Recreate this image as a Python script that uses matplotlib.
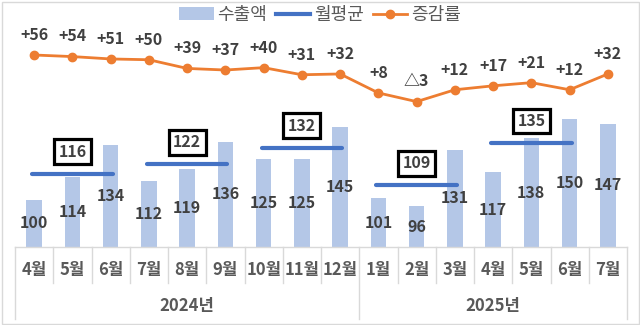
import matplotlib
matplotlib.use("Agg")
import matplotlib.pyplot as plt
from matplotlib.patches import Rectangle
from matplotlib.lines import Line2D
from matplotlib.patches import Patch
import matplotlib.transforms as mtransforms

plt.rcParams['font.family'] = ['Noto Sans CJK KR', 'DejaVu Sans']

# Data
months = ["4월", "5월", "6월", "7월", "8월", "9월", "10월", "11월", "12월",
          "1월", "2월", "3월", "4월", "5월", "6월", "7월"]
years = ["2024년", "2025년"]
year_spans = [(0, 8), (9, 15)]
exports = [100, 114, 134, 112, 119, 136, 125, 125, 145,
           101, 96, 131, 117, 138, 150, 147]
growth = [56, 54, 51, 50, 39, 37, 40, 31, 32, 8, -3, 12, 17, 21, 12, 32]
quarter_avg = [116, 122, 132, 109, 135]
quarter_start = [0, 3, 6, 9, 12]

BAR = "#B4C7E7"
AVG = "#4472C4"
ORANGE = "#ED7D31"
TXT = "#404040"
AXTXT = "#595959"
GRID = "#D9D9D9"

fig = plt.figure(figsize=(6.4, 3.25), dpi=100)
W, H = 640, 325
y_bot_px, y_top_px = 247, 20
ax = fig.add_axes([15 / W, (H - y_bot_px) / H, 612 / W, (y_bot_px - y_top_px) / H])
ax2 = ax.twinx()

x = list(range(len(months)))
ylo, yhi = 71, 211
ax.set_ylim(ylo, yhi)
ax.set_xlim(-0.5, len(months) - 0.5)
ax2.set_ylim(-187, 100.3)

LBL = 11.5

# Export bars with centered value labels
ax.bar(x, [v - ylo for v in exports], bottom=ylo, width=0.4, color=BAR, zorder=1)
for xi, v in zip(x, exports):
    ax.text(xi, (ylo + v) / 2, f"{v}", ha="center", va="center",
            fontsize=LBL, fontweight="bold", color=TXT, zorder=3)

# Quarterly average lines with boxed labels
for s, a in zip(quarter_start, quarter_avg):
    ax.plot([s - 0.05, s + 2.05], [a, a], color=AVG, lw=3,
            solid_capstyle="round", zorder=2)
    ax.annotate(f"{a}", xy=(s + 1, a), xytext=(0, 16), textcoords="offset points",
                ha="center", va="center", fontsize=LBL, fontweight="bold",
                color=TXT, zorder=5,
                bbox=dict(boxstyle="square,pad=0.28", fc="white", ec="black", lw=2.3))

# Growth rate line
ax2.plot(x, growth, color=ORANGE, lw=2, marker="o", markersize=6, zorder=4)
for xi, g in zip(x, growth):
    lab = f"+{g}" if g >= 0 else f"△{-g}"
    ax2.annotate(lab, xy=(xi, g), xytext=(0, 14.5), textcoords="offset points",
                 ha="center", va="center", fontsize=LBL, fontweight="bold",
                 color=TXT)

for a in (ax, ax2):
    a.set_yticks([])
    a.set_xticks([])
    for sp in a.spines.values():
        sp.set_visible(False)
ax.set_zorder(ax2.get_zorder() - 1)
ax.patch.set_visible(False)

# Category axis: baseline, separators, month and year labels
def fy(py):
    return (H - py) / H

trans = mtransforms.blended_transform_factory(ax.transData, fig.transFigure)
fig.add_artist(Line2D([-0.5, len(months) - 0.5], [fy(247), fy(247)],
                      transform=trans, color=GRID, lw=1))
for i in range(len(months) + 1):
    xb = i - 0.5
    long_line = xb in (-0.5, 8.5, len(months) - 0.5)
    y_end = 319 if long_line else 283
    fig.add_artist(Line2D([xb, xb], [fy(247), fy(y_end)], transform=trans,
                          color=GRID, lw=1))
for xi, m in zip(x, months):
    fig.text(xi, fy(270), m, transform=trans, ha="center", va="center",
             fontsize=12, fontweight="bold", color=AXTXT)
for (a, b), yr in zip(year_spans, years):
    fig.text((a + b) / 2, fy(306), yr, transform=trans, ha="center", va="center",
             fontsize=12, fontweight="bold", color=AXTXT)

# Legend
handles = [Patch(facecolor=BAR, edgecolor="none"),
           Line2D([], [], color=AVG, lw=3),
           Line2D([], [], color=ORANGE, lw=2, marker="o", markersize=6)]
fig.legend(handles, ["수출액", "월평균", "증감률"], loc="center",
           bbox_to_anchor=(0.5, fy(15)), ncol=3, frameon=False,
           fontsize=13, handlelength=1.9, handletextpad=0.2, columnspacing=0.5,
           labelcolor=AXTXT)

# Outer frame
fig.add_artist(Rectangle((1.5 / W, 1.5 / H), (W - 3) / W, (H - 3) / H,
                         transform=fig.transFigure, fill=False, ec=GRID, lw=1))

fig.savefig("out.png", dpi=100)
